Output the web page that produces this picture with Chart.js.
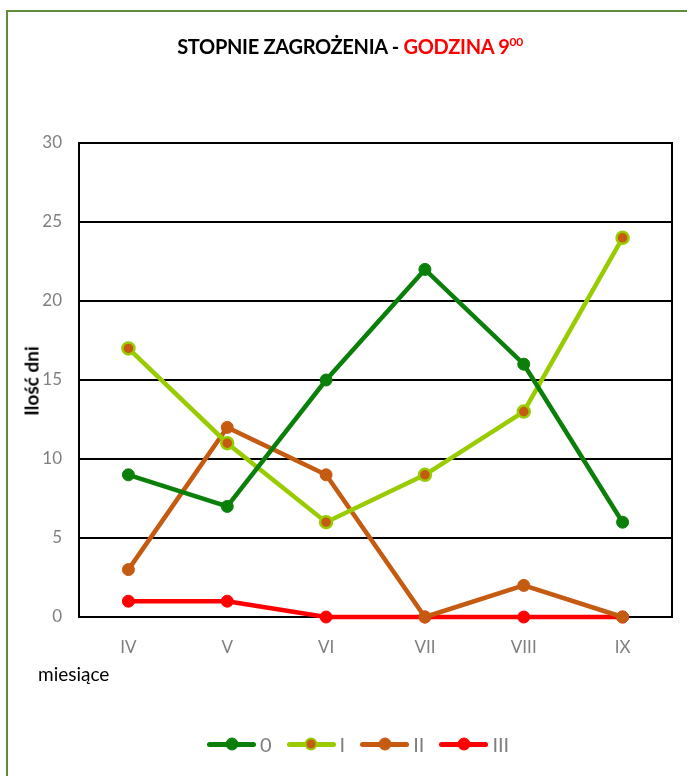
<!DOCTYPE html>
<html><head><meta charset="utf-8">
<script src="https://cdn.jsdelivr.net/npm/chart.js@4"></script>
<style>
html,body{margin:0;padding:0;background:#fff;width:687px;height:776px;overflow:hidden;font-family:Lato,"Liberation Sans",sans-serif;}
#frame{position:absolute;left:6px;top:10px;width:720px;height:820px;border-left:2.5px solid #5e8c3a;border-top:2.5px solid #5e8c3a;}
#wrap{position:absolute;left:0;top:0;width:687px;height:776px;}
#title{position:absolute;left:0;width:700px;top:34px;text-align:center;font-weight:bold;font-size:20px;color:#000;letter-spacing:-0.3px;}
#title .r{color:#ff0000;}
#title sup{font-size:12px;vertical-align:8px;}
#ytitle{position:absolute;left:31px;top:381px;transform:translate(-50%,-50%) rotate(-90deg);font-weight:bold;font-size:19px;white-space:nowrap;color:#000;}
#xtitle{position:absolute;left:38px;top:662px;font-size:19px;color:#000;}
#legend{position:absolute;left:207px;top:732px;display:flex;align-items:center;gap:15px;font-size:20px;color:#7f7f7f;}
.li{display:flex;align-items:center;gap:4px;}
.sw{position:relative;width:49px;height:20px;}
.sw .ln{position:absolute;left:0;right:0;top:8px;height:5px;border-radius:2.5px;}
.sw .pt{position:absolute;left:50%;top:50%;border-radius:50%;transform:translate(-50%,-50%);}
</style></head>
<body>
<div id="frame"></div>
<div id="wrap"><canvas id="c" width="687" height="776"></canvas></div>
<div id="title">STOPNIE ZAGROŻENIA - <span class="r">GODZINA 9<sup>00</sup></span></div>
<div id="ytitle">Ilość dni</div>
<div id="xtitle">miesiące</div>
<div id="legend"></div>
<script>
const categories = ["IV","V","VI","VII","VIII","IX"];
const seriesNames = ["0","I","II","III"];
const series0 = [9,7,15,22,16,6];
const series1 = [17,11,6,9,13,24];
const series2 = [3,12,9,0,2,0];
const series3 = [1,1,0,0,0,0];
const yTicks = [0,5,10,15,20,25,30];

const lineColors = ["#0a7f0a","#99cc00","#c55a11","#ff0000"];
const pointFills = ["#0a7f0a","#c55a11","#c55a11","#ff0000"];
const values = [series0,series1,series2,series3];

const datasets = values.map((v,i)=>({
  label: seriesNames[i],
  data: v,
  borderColor: lineColors[i],
  backgroundColor: pointFills[i],
  pointBackgroundColor: pointFills[i],
  pointBorderColor: lineColors[i],
  pointBorderWidth: i===1?2.5:1,
  pointRadius: 6,
  borderWidth: 4.5,
  tension: 0,
  clip: false
}));

const frameBox = {
  id:'frameBox',
  beforeDatasetsDraw(chart){
    const a = chart.chartArea, ctx = chart.ctx;
    ctx.save();
    ctx.strokeStyle = '#000';
    ctx.lineWidth = 2;
    ctx.strokeRect(a.left, a.top, a.right-a.left, a.bottom-a.top);
    ctx.restore();
  }
};

const chart = new Chart(document.getElementById('c'), {
  type:'line',
  data:{labels:categories, datasets},
  options:{
    responsive:false,
    animation:false,
    devicePixelRatio:1,
    layout:{padding:{left:0,top:143,right:15,bottom:0}},
    plugins:{legend:{display:false},title:{display:false},tooltip:{enabled:false}},
    scales:{
      x:{
        offset:true,
        grid:{display:false,drawTicks:false},
        border:{display:true,color:'#000',width:2},
        ticks:{color:'#7f7f7f',font:{family:'Lato',size:17},padding:20},
        afterFit(s){s.height=159;}
      },
      y:{
        min:0,max:30,
        afterBuildTicks(s){s.ticks = yTicks.map(v=>({value:v}));},
        grid:{color:'#000',lineWidth:2,drawTicks:false},
        border:{display:true,color:'#000',width:2},
        ticks:{color:'#7f7f7f',font:{family:'Lato',size:17},padding:17},
        afterFit(s){s.width=79;}
      }
    }
  },
  plugins:[frameBox]
});

const lg = document.getElementById('legend');
chart.data.datasets.forEach(ds=>{
  const it = document.createElement('div'); it.className='li';
  const sw = document.createElement('div'); sw.className='sw';
  const ln = document.createElement('div'); ln.className='ln'; ln.style.background=ds.borderColor;
  const pt = document.createElement('div'); pt.className='pt'; pt.style.background=ds.pointBackgroundColor;
  pt.style.border = ds.pointBorderWidth+'px solid '+ds.pointBorderColor; pt.style.boxSizing='border-box';
  pt.style.width='13px'; pt.style.height='13px';
  sw.appendChild(ln); sw.appendChild(pt);
  const tx = document.createElement('span'); tx.textContent = ds.label;
  it.appendChild(sw); it.appendChild(tx); lg.appendChild(it);
});
</script>
</body></html>
